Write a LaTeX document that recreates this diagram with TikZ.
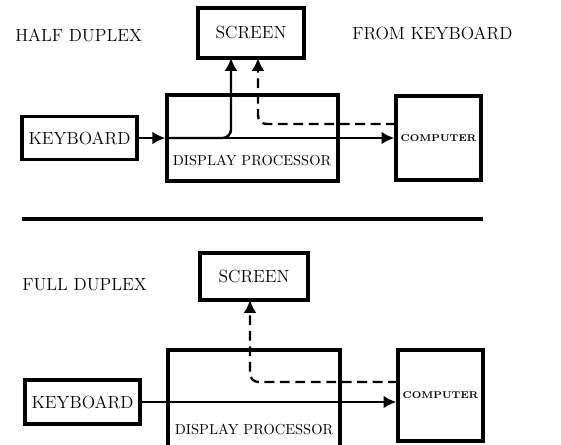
\documentclass[tikz,border=0pt]{standalone}
\usepackage{fontspec}
\usetikzlibrary{arrows.meta}
\begin{document}
\begin{tikzpicture}[x=0.025cm, y=-0.025cm, >={Latex[length=3.2mm, width=3.2mm]},
    box/.style={draw, line width=2.4pt, inner sep=0pt, font=\fontsize{12.5}{14}\selectfont},
    compbox/.style={box, minimum width=2.125cm, font=\bfseries\fontsize{7}{9}\selectfont},
    title/.style={anchor=west, inner sep=0pt, font=\fontsize{12.5}{14}\selectfont},
    dptext/.style={inner sep=0pt, font=\fontsize{10.3}{12}\selectfont},
    flow/.style={->, line width=1.7pt},
    back/.style={->, line width=1.7pt, dash pattern=on 7pt off 4pt, rounded corners=6pt}]
    \clip (0,0) rectangle (561,445);
    % Half duplex
    \node[title] (half) at (15,35) {HALF DUPLEX};
    \node[title] (fromkb) at (352,33) {FROM KEYBOARD};
    \node[box, minimum width=2.65cm, minimum height=1.25cm] (scr1) at (251,33) {SCREEN};
    \node[box, minimum width=4.275cm, minimum height=2.15cm] (disp1) at (252.5,138) {};
    \node[dptext] (dp1) at (252,160) {DISPLAY PROCESSOR};
    \node[box, minimum width=2.875cm, minimum height=1.075cm] (kb1) at (79.5,138) {KEYBOARD};
    \node[compbox, minimum height=2.1cm] (comp1) at (438.5,138) {COMPUTER};
    \coordinate (up1) at (231,58);
    \coordinate (up2) at (258,58);
    \coordinate (cb1) at (396,124);
    \draw[flow] (kb1) -- (disp1.west);
    \draw[flow] (disp1.west) -- (comp1);
    \draw[flow, rounded corners=6pt] (disp1.west) -| (up1);
    \draw[back] (cb1) -| (up2);
    % separator
    \draw[line width=2.2pt] (22,219) -- (483,219);
    % Full duplex
    \node[title] (full) at (22,285) {FULL DUPLEX};
    \node[box, minimum width=2.7cm, minimum height=1.175cm] (scr2) at (254,276.5) {SCREEN};
    \node[box, minimum width=4.3cm, minimum height=3.25cm] (disp2) at (254,415) {};
    \node[dptext] (dp2) at (254,429) {DISPLAY PROCESSOR};
    \node[box, minimum width=2.875cm, minimum height=1.1cm] (kb2) at (82.5,402) {KEYBOARD};
    \node[compbox, minimum height=2.275cm] (comp2) at (440.5,395.5) {COMPUTER};
    \coordinate (up3) at (250,300);
    \coordinate (cb2) at (398,382);
    \draw[flow] (kb2) -- (comp2.west |- kb2);
    \draw[back] (cb2) -| (up3);
\end{tikzpicture}
\end{document}
